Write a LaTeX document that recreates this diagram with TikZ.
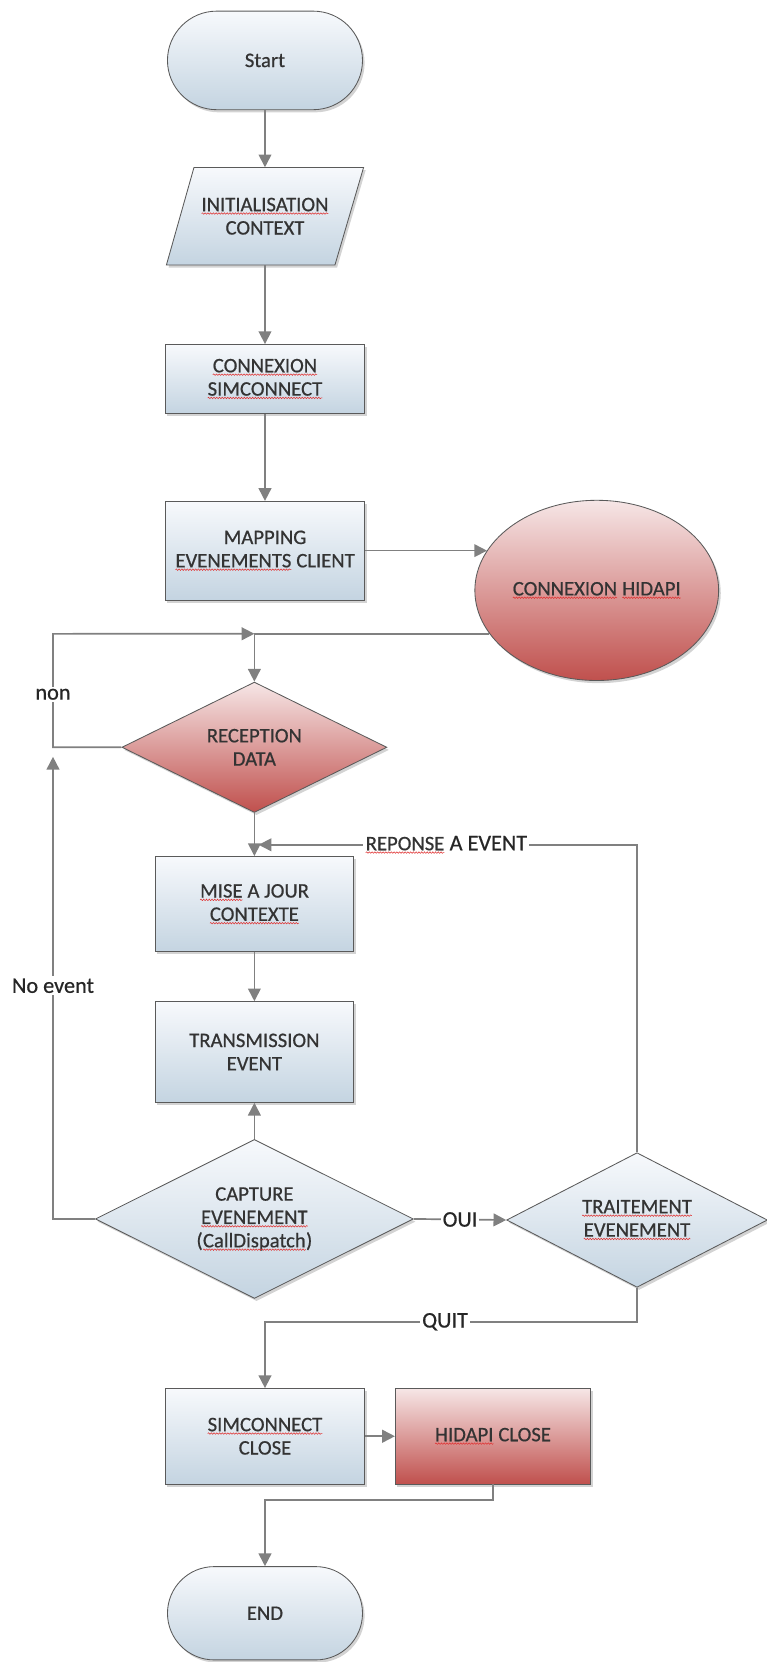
\documentclass[tikz,border=0pt]{standalone}
\usepackage{fontspec}
\setmainfont{Carlito}[FakeBold=0.6]
\usetikzlibrary{shapes.geometric,shapes.misc,arrows.meta,shadows,calc,decorations.pathmorphing}

\definecolor{lineg}{HTML}{808080}
\definecolor{bordg}{HTML}{5A5A5A}
\definecolor{btop}{HTML}{F7F9FC}
\definecolor{bbot}{HTML}{C4D4E1}
\definecolor{rtop}{HTML}{F6E6E6}
\definecolor{rbot}{HTML}{C0504D}
\definecolor{txt}{HTML}{333333}
\definecolor{squigc}{HTML}{E03030}

\newcommand\sqw[1]{\tikz[baseline=(w.base)]{\node[shape=rectangle, inner sep=0pt, outer sep=0pt,
    minimum width=0pt, minimum height=0pt, anchor=center, fill=none] (w) {#1};
  \draw[-, squigc, line width=0.5pt, decorate, decoration={snake, amplitude=0.7pt, segment length=2.6pt}]
    ([yshift=-2.2pt]w.base west) -- ([yshift=-2.2pt]w.base east);}}

\begin{document}
\begin{tikzpicture}[x=1pt,y=-1pt,
  every node/.style={font=\fontsize{19.5}{22}\selectfont, text=txt, align=center},
  shp/.style={draw=bordg, line width=0.8pt, inner sep=0pt,
    drop shadow={shadow xshift=2pt,shadow yshift=-2.5pt,opacity=0.35}},
  bluebox/.style={shp, top color=btop, bottom color=bbot},
  redbox/.style={shp, top color=rtop, bottom color=rbot},
  conn/.style={draw=lineg, line width=1.6pt, -{Triangle[length=12pt,width=12pt]}},
  lab/.style={fill=white, inner sep=2pt, text=black!85, font=\fontsize{21}{24}\selectfont}
]
\useasboundingbox (0,0) rectangle (723,1568);

\node[bluebox, rounded rectangle, minimum width=184pt, minimum height=93pt] (start) at (250,57) {Start};
\path[bluebox] (183,158) -- (343,158) -- (316,250) -- (157,250) -- cycle;
\node[minimum width=160pt, minimum height=92pt, inner sep=0pt] (init) at (250,204) {\sqw{INITIALISATION}\\CONTEXT};
\node[bluebox, minimum width=188pt, minimum height=65pt] (consim) at (250,357.5) {\sqw{CONNEXION}\\\sqw{SIMCONNECT}};
\node[bluebox, minimum width=188pt, minimum height=93pt] (mapping) at (250,519.5) {MAPPING\\\sqw{EVENEMENTS} CLIENT};
\node[redbox, ellipse, minimum width=230pt, minimum height=170pt] (hidapi) at (563,557) {\sqw{CONNEXION} \sqw{HIDAPI}};
\node[redbox, diamond, aspect=2, minimum width=250pt, minimum height=123pt] (reception) at (240,705) {RECEPTION\\DATA};
\node[bluebox, minimum width=187pt, minimum height=90pt] (mise) at (240,853) {\sqw{MISE} A JOUR\\\sqw{CONTEXTE}};
\node[bluebox, minimum width=187pt, minimum height=95pt] (trans) at (240,992.5) {TRANSMISSION\\EVENT};
\node[bluebox, diamond, aspect=2, minimum width=300pt, minimum height=150pt] (capture) at (240,1150) {CAPTURE\\\sqw{EVENEMENT}\\(\sqw{CallDispatch})};
\node[bluebox, diamond, aspect=2, minimum width=246pt, minimum height=127pt] (trait) at (601,1151) {\sqw{TRAITEMENT}\\\sqw{EVENEMENT}};
\node[bluebox, minimum width=188pt, minimum height=90pt] (simclose) at (250,1355) {\sqw{SIMCONNECT}\\CLOSE};
\node[redbox, minimum width=184pt, minimum height=90pt] (hidclose) at (465,1355) {\sqw{HIDAPI} CLOSE};
\node[bluebox, rounded rectangle, minimum width=184pt, minimum height=88pt] (end) at (250,1522) {END};

\draw[conn] (start) -- (init);
\draw[conn] (init) -- (consim);
\draw[conn] (consim) -- (mapping);
\draw[conn] (mapping.east) -- (mapping.east -| hidapi.160);
\coordinate (j) at (hidapi.202 -| reception.north);
\draw[conn] (hidapi.202) -- (j) -- (reception.north);
\coordinate (lx) at (50,598);
\draw[conn] (reception.west) -| (lx) -- (j);
\node[lab] at (50,655) {non};
\draw[conn] (reception.south) -- (mise.north);
\draw[conn] (mise) -- (trans);
\draw[conn] (capture) -- (trans);
\coordinate (ne) at (50,714);
\draw[conn] (capture.west) -| (ne);
\node[lab] at (50,930) {No event};
\draw[conn] (capture.east) -- node[lab]{OUI} (trait.west);
\coordinate (rp) at (244,797);
\draw[conn] (trait.north) |- node[lab,pos=0.752]{\sqw{REPONSE} A EVENT} (rp);
\coordinate (qc) at (250,1247);
\draw[conn] (trait.south) |- node[lab,pos=0.758]{QUIT} (qc) -- (simclose.north);
\draw[conn] (simclose) -- (hidclose);
\draw[conn] (hidclose.south) -- ++(0,15) -| (end.north);
\end{tikzpicture}
\end{document}
